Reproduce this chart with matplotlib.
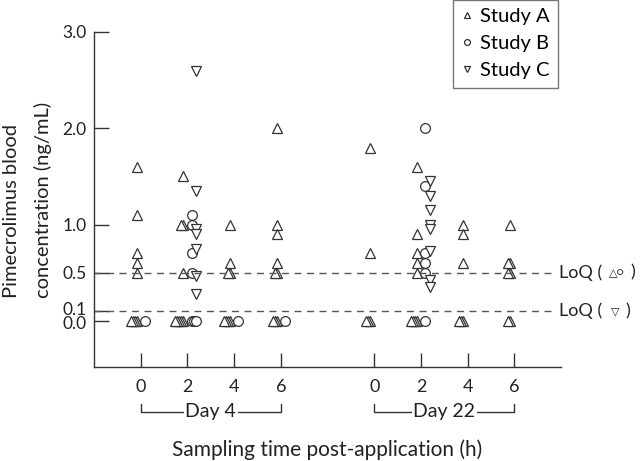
import numpy as np
import matplotlib
matplotlib.use('Agg')
import matplotlib.pyplot as plt
from matplotlib.transforms import offset_copy

plt.rcParams['font.family'] = ['Lato', 'DejaVu Sans']

# sampling groups: Day 4 (0, 2, 4, 6 h) then Day 22 (0, 2, 4, 6 h)
group_pos = [0, 1, 2, 3, 5, 6, 7, 8]
tick_labels = ['0', '2', '4', '6', '0', '2', '4', '6']
day_labels = ['Day 4', 'Day 22']
day_spans = [(0, 3), (5, 8)]

study_a = [
    [1.6, 1.1, 0.7, 0.6, 0.5, 0, 0, 0, 0],
    [1.5, 1.0, 1.0, 0.5, 0, 0, 0, 0, 0],
    [1.0, 0.6, 0.5, 0.5, 0, 0, 0, 0],
    [2.0, 1.0, 0.9, 0.6, 0.5, 0.5, 0, 0, 0],
    [1.8, 0.7, 0, 0, 0],
    [1.6, 0.9, 0.7, 0.6, 0.5, 0, 0, 0, 0],
    [1.0, 0.9, 0.6, 0, 0, 0],
    [1.0, 0.6, 0.6, 0.5, 0.5, 0, 0],
]
study_b = [
    [0],
    [1.1, 1.0, 0.7, 0.5, 0, 0, 0],
    [0],
    [0],
    [],
    [2.0, 1.4, 0.7, 0.6, 0.5, 0],
    [],
    [],
]
study_c = [
    [],
    [2.6, 1.35, 0.95, 0.9, 0.75, 0.47, 0.28],
    [],
    [],
    [],
    [1.45, 1.3, 1.15, 1.0, 0.95, 0.72, 0.42, 0.35],
    [],
    [],
]

yticks = [0.0, 0.1, 0.5, 1.0, 2.0, 3.0]
loq_ac = 0.5
loq_c = 0.1

ink = '#333333'
txt = '#222222'

fig = plt.figure(figsize=(6.4, 4.61), dpi=100)
ax = fig.add_axes([0.1469, 0.2039, 0.7297, 0.7267])


def spread(groups, shift, step):
    # duplicate values are drawn slightly side by side
    xs, ys = [], []
    for pos, vals in zip(group_pos, groups):
        seen = {}
        for v in vals:
            k = seen.get(v, 0)
            seen[v] = k + 1
            xs.append(pos + shift + k * step)
            ys.append(v)
    return xs, ys


mk = dict(ls='none', mfc='white', mec=ink, mew=0.9)
xa, ya = spread(study_a, -0.09, -0.042)
xb, yb = spread(study_b, 0.09, 0.045)
xc, yc = spread(study_c, 0.19, 0.045)
ax.plot(xa, ya, marker='^', ms=7.5, label='Study A', **mk)
ax.plot(xb, yb, marker='o', ms=7, label='Study B', **mk)
ax.plot(xc, yc, marker='v', ms=7.5, label='Study C', **mk)

# limits of quantification
for lv in (loq_ac, loq_c):
    ax.axhline(lv, xmin=0, xmax=0.987, ls=(0, (5, 4)), color='#555555', lw=1)
ytr = ax.get_yaxis_transform()
ax.text(0.996, loq_ac, 'LoQ (', transform=ytr, ha='left', va='center', fontsize=13, color=txt, clip_on=False)
ax.text(1.119, loq_ac, '\u25b3\u25cb', transform=ytr, ha='center', va='center', fontsize=8, color=txt, clip_on=False)
ax.text(1.153, loq_ac, ')', transform=ytr, ha='center', va='center', fontsize=13, color=txt, clip_on=False)
ax.text(0.996, loq_c, 'LoQ (', transform=ytr, ha='left', va='center', fontsize=13, color=txt, clip_on=False)
ax.text(1.117, loq_c, '\u25bd', transform=ytr, ha='center', va='center', fontsize=8, color=txt, clip_on=False)
ax.text(1.143, loq_c, ')', transform=ytr, ha='center', va='center', fontsize=13, color=txt, clip_on=False)

ax.set_xlim(-1, 9)
ax.set_ylim(-0.48, 3.0)
ax.set_xticks(group_pos)
ax.set_xticklabels(tick_labels)
ax.set_yticks(yticks)
ax.set_yticklabels(['%.1f' % t for t in yticks])
ax.tick_params(axis='x', direction='in', length=10, width=1, color=ink, pad=8.5, labelsize=13, labelcolor=txt)
ax.tick_params(axis='y', direction='in', length=11, width=1, color=ink, pad=5.5, labelsize=12.5, labelcolor=txt)
# 0.1 and 0.0 sit very close: nudge them apart a little
ylabs = ax.get_yticklabels()
ylabs[1].set_transform(offset_copy(ylabs[1].get_transform(), fig=fig, y=2, units='points'))
ylabs[0].set_transform(offset_copy(ylabs[0].get_transform(), fig=fig, y=-1.5, units='points'))
for s in ('top', 'right'):
    ax.spines[s].set_visible(False)
for s in ('left', 'bottom'):
    ax.spines[s].set_color(ink)
    ax.spines[s].set_linewidth(1)

# day brackets under the tick labels
xtr = ax.get_xaxis_transform()
for (x0, x1), lab in zip(day_spans, day_labels):
    ax.plot([x0, x0, x1, x1], [-0.110, -0.134, -0.134, -0.110], color=ink, lw=1,
            transform=xtr, clip_on=False)
    ax.text((x0 + x1) / 2, -0.134, lab, transform=xtr, ha='center', va='center',
            fontsize=14, color=txt,
            bbox=dict(facecolor='white', edgecolor='none', pad=1.0))

ax.set_xlabel('Sampling time post-application (h)', fontsize=15, color=txt, labelpad=32)
ax.set_ylabel('Pimecrolimus blood\nconcentration (ng/mL)', fontsize=14.5, color=txt,
              labelpad=7, multialignment='left', linespacing=1.95)

leg = ax.legend(loc='upper left', bbox_to_anchor=(453 / 640, 1.0), bbox_transform=fig.transFigure,
                frameon=True, fancybox=False, markerscale=0.6, fontsize=14.5,
                handlelength=0.6, handletextpad=0.35, labelspacing=0.5, borderpad=0.4,
                borderaxespad=0)
leg.get_frame().set_edgecolor('#555555')
leg.get_frame().set_linewidth(1)

fig.savefig('out.png', dpi=100)
